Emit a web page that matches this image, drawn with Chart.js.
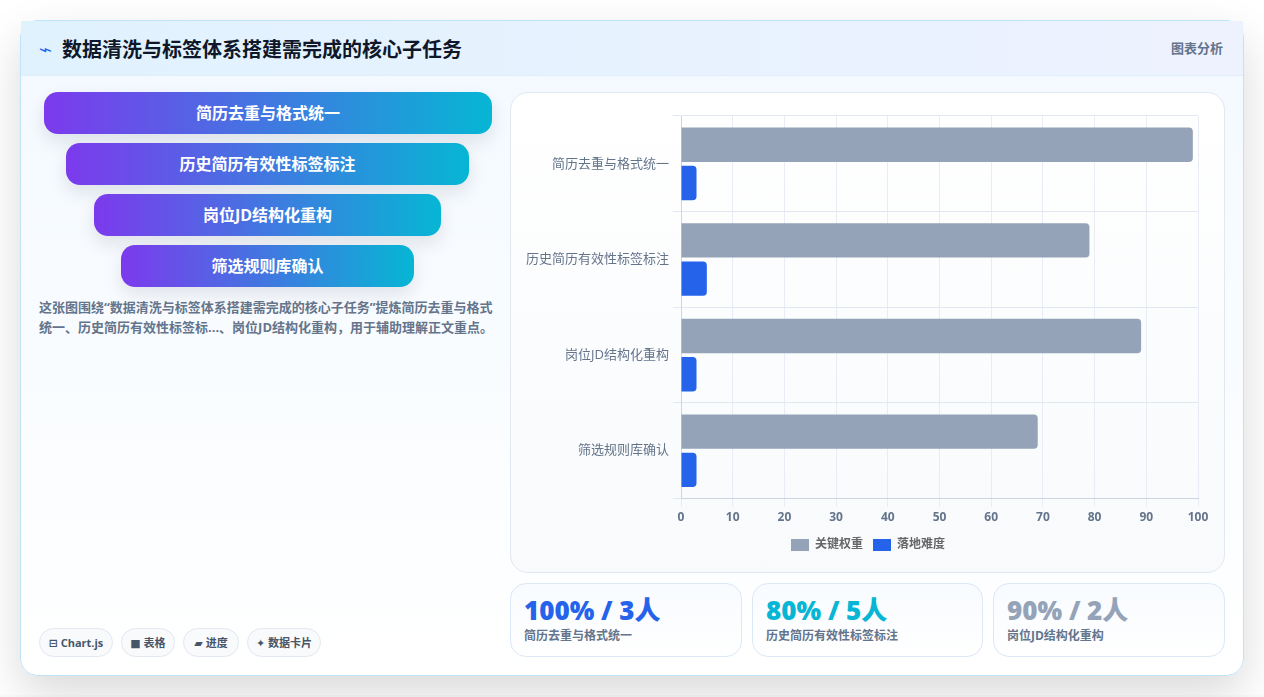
<!DOCTYPE html>
<html lang="zh-CN">
<head>
<meta charset="utf-8">
<title>数据清洗与标签体系搭建需完成的核心子任务</title>
<script src="https://cdn.jsdelivr.net/npm/chart.js@4"></script>
<style>
  * { box-sizing: border-box; }
  html, body { margin: 0; height: 100%; background: #fff; overflow: hidden; }
  body { font-family: "Open Sans", "Noto Sans CJK SC", sans-serif; color: #0f172a; position: relative; width: 1264px; height: 697px; }
  .page { position: absolute; left: 20px; top: 20px; width: 1224px; height: 656px; border: 1px solid #bfe3f7; border-radius: 18px;
    background: linear-gradient(180deg, #f3f9ff 0%, #fff 100%); box-shadow: 0 18px 45px rgba(0, 0, 0, .15); }
  .strip { position: absolute; left: 0; top: 695px; width: 1264px; height: 2px; background: #fafbfc; }
  .head { position: absolute; left: 0; top: 0; width: 1222px; height: 55px; border-bottom: 1px solid #e0eefb;
    background: linear-gradient(90deg, #e0f2fe, #eef2ff); }
  .head h1 { position: absolute; left: 41px; top: 15px; margin: 0; font-size: 20px; line-height: 28px; font-weight: 700; }
  .head i { position: absolute; left: 20px; top: 15px; font: normal 16px/28px "DejaVu Sans"; color: #2563eb; transform: scaleX(1.4); }
  .head span { position: absolute; right: 20px; top: 17px; font-size: 13px; line-height: 20px; font-weight: 700; color: #64748b; }
  .step { position: absolute; height: 42px; border-radius: 14px; color: #fff; font-size: 16px; font-weight: 700; line-height: 42px; text-align: center;
    background: linear-gradient(90deg, #7c3aed, #06b6d4); box-shadow: 0 8px 18px rgba(15, 23, 42, .1); }
  .desc { position: absolute; left: 39px; top: 297px; width: 460px; font-size: 13px; line-height: 20px; font-weight: 700; color: #64748b; }
  .chip { position: absolute; top: 628px; height: 29px; border: 1px solid #e2e8f0; border-radius: 15px; background: #f8fafc;
    font-size: 11px; line-height: 27px; font-weight: 700; color: #475569; text-align: center; white-space: nowrap; }
  .chip b { font-family: "DejaVu Sans"; font-size: 11px; }
  .chart-box { position: absolute; left: 510px; top: 92px; width: 715px; height: 481px; border: 1px solid #e2e8f0; border-radius: 18px;
    background: linear-gradient(180deg, #fff, #f8fafc); }
  .stat { position: absolute; top: 583px; height: 74px; border: 1px solid #dbe8f6; border-radius: 16px; background: linear-gradient(180deg, #f8fbff, #fff); }
  .stat strong { position: absolute; left: 13px; top: 9px; font-size: 26px; line-height: 34px; font-weight: 800; white-space: nowrap; }
  .stat em { position: absolute; left: 13px; top: 43px; font-style: normal; font-size: 12px; line-height: 17px; font-weight: 700; color: #64748b; white-space: nowrap; }
</style>
</head>
<body>
<div class="strip"></div>
<div class="page">
  <div class="head"><i>⌁</i><h1>数据清洗与标签体系搭建需完成的核心子任务</h1><span>图表分析</span></div>
</div>
<div id="steps"></div>
<div class="desc">这张图围绕“数据清洗与标签体系搭建需完成的核心子任务”提炼简历去重与格式统一、历史简历有效性标签标...、岗位JD结构化重构，用于辅助理解正文重点。</div>
<div id="chips"></div>
<div class="chart-box"><canvas id="taskChart"></canvas></div>
<div id="stats"></div>
<script>
const categories = ['简历去重与格式统一', '历史简历有效性标签标注', '岗位JD结构化重构', '筛选规则库确认'];
const weightValues = [99, 79, 89, 69];
const difficultyValues = [3, 5, 3, 3];
const seriesNames = ['关键权重', '落地难度'];
const xTicks = [0, 10, 20, 30, 40, 50, 60, 70, 80, 90, 100];

const statValues = ['100% / 3人', '80% / 5人', '90% / 2人'];
const statColors = ['#2563eb', '#06b6d4', '#94a3b8'];
const stepBoxes = [[44, 92, 448], [66, 143, 403], [94, 194, 347], [121, 245, 293]];
const statBoxes = [[510, 232], [752, 231], [993, 232]];
const chipItems = [['⊟', 'Chart.js', 39, 74], ['■', '表格', 121, 54], ['▰', '进度', 183, 56], ['✦', '数据卡片', 247, 74]];

document.getElementById('steps').innerHTML = categories.map((name, i) =>
  `<div class="step" style="left:${stepBoxes[i][0]}px;top:${stepBoxes[i][1]}px;width:${stepBoxes[i][2]}px">${name}</div>`).join('');
document.getElementById('chips').innerHTML = chipItems.map(c =>
  `<div class="chip" style="left:${c[2]}px;width:${c[3]}px"><b>${c[0]}</b> ${c[1]}</div>`).join('');
document.getElementById('stats').innerHTML = statValues.map((v, i) =>
  `<div class="stat" style="left:${statBoxes[i][0]}px;width:${statBoxes[i][1]}px"><strong style="color:${statColors[i]}">${v}</strong><em>${categories[i]}</em></div>`).join('');

// the paddings are uneven, so nudge the legend back to the middle of the canvas
const legendNudge = {
  id: 'legendNudge',
  afterLayout(chart) {
    chart.legend.left += 8;
    chart.legend.right += 8;
  }
};

const fontFamily = '"Open Sans", "Noto Sans CJK SC", sans-serif';
const taskChart = new Chart(document.getElementById('taskChart').getContext('2d'), {
  type: 'bar',
  plugins: [legendNudge],
  data: {
    labels: categories,
    datasets: [
      { label: seriesNames[0], data: weightValues, backgroundColor: '#94a3b8', borderRadius: 4 },
      { label: seriesNames[1], data: difficultyValues, backgroundColor: '#2563eb', borderRadius: 4 }
    ]
  },
  options: {
    indexAxis: 'y',
    responsive: true,
    maintainAspectRatio: false,
    animation: false,
    layout: { padding: { left: 11, right: 26, top: 23, bottom: 11 } },
    plugins: {
      tooltip: { enabled: true },
      legend: {
        position: 'bottom',
        labels: { boxWidth: 18, boxHeight: 12, padding: 10, color: '#666', font: { family: fontFamily, size: 12, weight: '700' } }
      }
    },
    scales: {
      x: {
        min: 0,
        max: 100,
        afterBuildTicks: scale => { scale.ticks = xTicks.map(value => ({ value })); },
        grid: { color: '#e8edf5' },
        border: { color: '#cbd5e1' },
        ticks: { color: '#64748b', padding: 4, font: { family: fontFamily, size: 12, weight: '700' } }
      },
      y: {
        grid: { color: '#e2e8f0' },
        border: { color: '#cbd5e1' },
        ticks: { color: '#64748b', padding: 4, font: { family: fontFamily, size: 13 } }
      }
    }
  }
});
</script>
</body>
</html>
